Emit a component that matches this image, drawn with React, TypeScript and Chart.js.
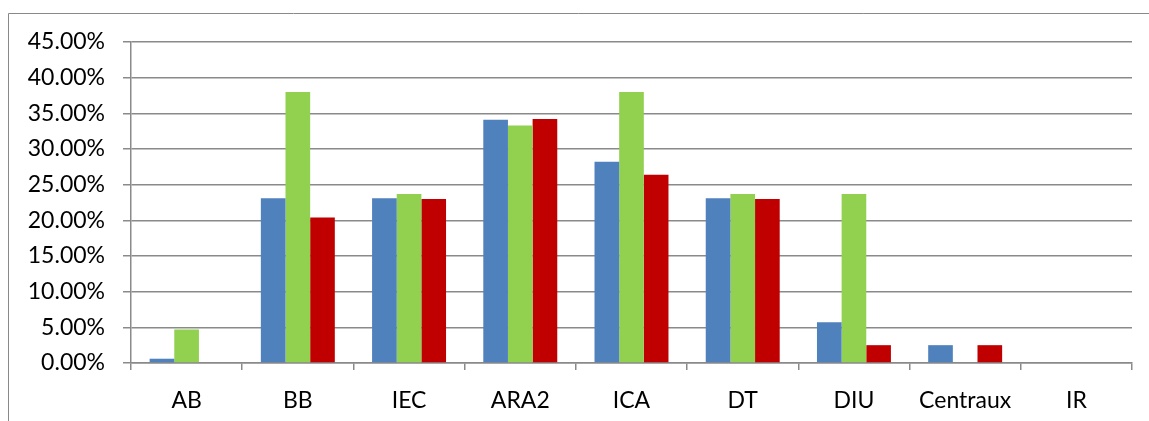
import React, { useEffect, useRef } from "react";
import { Chart, registerables } from "chart.js";

Chart.register(...registerables);

const categories = ["AB", "BB", "IEC", "ARA2", "ICA", "DT", "DIU", "Centraux", "IR"];
const seriesBlue = [0.6, 23.1, 23.1, 34.1, 28.2, 23.1, 5.7, 2.5, 0];
const seriesGreen = [4.7, 38.0, 23.7, 33.3, 38.0, 23.7, 23.7, 0, 0];
const seriesRed = [0, 20.4, 23.0, 34.2, 26.4, 23.0, 2.5, 2.5, 0];
const yMax = 45;
const yStep = 5;

const FONT = "Lato, 'Open Sans', sans-serif";

const borderPlugin = {
  id: "outerBorder",
  beforeDraw(chart: any) {
    const ctx = chart.ctx;
    ctx.save();
    ctx.strokeStyle = "#898989";
    ctx.lineWidth = 1;
    ctx.beginPath();
    ctx.moveTo(8.5, chart.height);
    ctx.lineTo(8.5, 13.5);
    ctx.lineTo(chart.width, 13.5);
    ctx.stroke();
    ctx.restore();
  },
};

export default function App() {
  const ref = useRef<HTMLCanvasElement>(null);
  useEffect(() => {
    if (!ref.current) return;
    const chart = new Chart(ref.current, {
      type: "bar",
      data: {
        labels: categories,
        datasets: [
          { data: seriesBlue, backgroundColor: "#4F81BD", borderWidth: 0 },
          { data: seriesGreen, backgroundColor: "#92D050", borderWidth: 0 },
          { data: seriesRed, backgroundColor: "#C00000", borderWidth: 0 },
        ],
      },
      options: {
        animation: false,
        responsive: false,
        maintainAspectRatio: false,
        layout: { padding: { top: 42, right: 17, left: 0, bottom: 0 } },
        datasets: { bar: { categoryPercentage: 0.665, barPercentage: 1 } },
        plugins: { legend: { display: false }, tooltip: { enabled: false } },
        scales: {
          x: {
            grid: {
              display: true,
              offset: true,
              drawOnChartArea: false,
              drawTicks: true,
              tickLength: 7,
              color: "#8a8a8a",
              lineWidth: 1.5,
            },
            border: { display: true, color: "#8a8a8a", width: 1.5 },
            ticks: {
              color: "#000",
              font: { family: FONT, size: 23 },
              padding: 17,
              maxRotation: 0,
              autoSkip: false,
            },
            afterFit: (s: any) => {
              s.height = 58;
            },
          },
          y: {
            min: 0,
            max: yMax,
            ticks: {
              stepSize: yStep,
              color: "#000",
              font: { family: FONT, size: 23 },
              padding: 18,
              callback: (v: any) => Number(v).toFixed(2) + "%",
            },
            grid: {
              color: "#8a8a8a",
              lineWidth: 1.5,
              tickLength: 8,
              drawTicks: true,
            },
            border: { display: true, color: "#8a8a8a", width: 1.5 },
            afterFit: (s: any) => {
              s.width = 131;
            },
          },
        },
      },
      plugins: [borderPlugin],
    });
    return () => chart.destroy();
  }, []);
  return (
    <div style={{ position: "absolute", left: 0, top: 0, width: 1149, height: 421, background: "#fff" }}>
      <canvas ref={ref} width={1149} height={421} style={{ display: "block" }} />
    </div>
  );
}
